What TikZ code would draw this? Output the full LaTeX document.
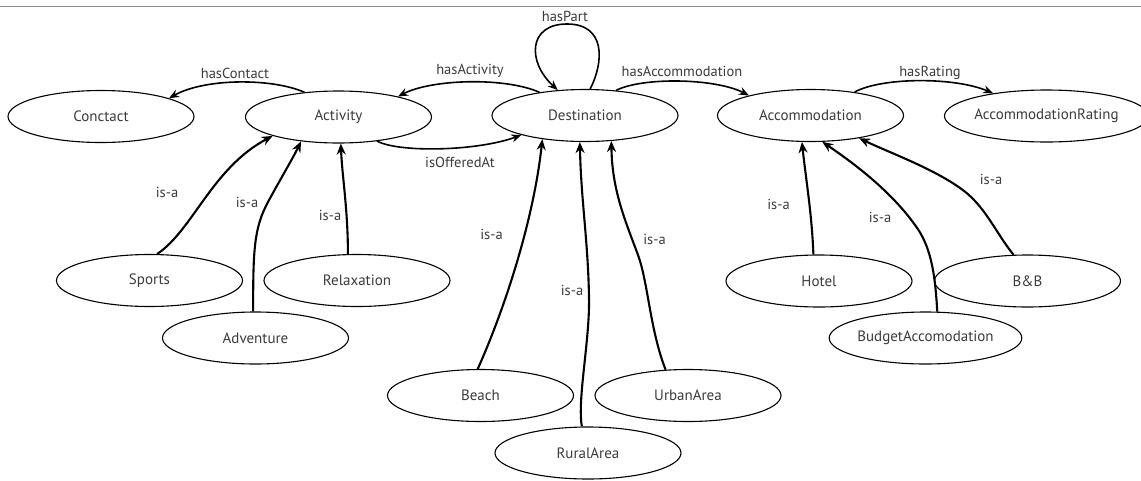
\documentclass[tikz,border=0pt]{standalone}
\usepackage{fontspec}
\setmainfont{PT Sans}
\usetikzlibrary{arrows.meta,shapes.geometric}
\definecolor{txt}{HTML}{3C3C3C}
\definecolor{rule}{HTML}{8C8C8C}
\begin{document}
\begin{tikzpicture}[x=1pt,y=-1pt,
  cls/.style={draw=black, line width=1.1pt, ellipse, minimum width=186pt, minimum height=52pt, inner sep=0pt, text=txt, font=\fontsize{15}{17}\selectfont},
  rel/.style={line width=1.6pt, -{Stealth[length=10pt,width=8pt]}},
  isa/.style={line width=2.1pt, -{Stealth[length=11pt,width=9pt]}},
  lbl/.style={text=txt, font=\fontsize{14.5}{16}\selectfont, inner sep=0pt}]
\useasboundingbox (0,0) rectangle (1141,480);
\fill[white] (0,0) rectangle (1141,480);
% rule line of the cut-off caption above
\coordinate (rl) at (0,6.5);
\coordinate (rr) at (1141,6.5);
\draw[rule, line width=0.9pt] (rl) -- (rr);

% classes
\node[cls] (con) at (101,116.5) {Conctact};
\node[cls] (act) at (338.5,117) {Activity};
\node[cls] (des) at (585,115.5) {Destination};
\node[cls] (acc) at (810.5,115.5) {Accommodation};
\node[cls] (rat) at (1046.5,116) {AccommodationRating};
\node[cls] (spo) at (149.5,280.5) {Sports};
\node[cls] (rel) at (357,280.5) {Relaxation};
\node[cls] (adv) at (255.5,338) {Adventure};
\node[cls] (bea) at (480.5,395.5) {Beach};
\node[cls] (urb) at (688,395.5) {UrbanArea};
\node[cls] (rur) at (588,453) {RuralArea};
\node[cls] (hot) at (819,281) {Hotel};
\node[cls] (bnb) at (1027.5,281) {B\&B};
\node[cls] (bud) at (925.5,338) {BudgetAccomodation};

% relations
\draw[rel] (act.144) .. controls (272,78) and (205,78) .. (con.15);
\draw[rel] (des.153) .. controls (505,77) and (432,79) .. (act.19);
\draw[rel] (act.-32) .. controls (400,153) and (478,151) .. (des.197);
\draw[rel] (des.79) .. controls (604,62) and (606,24) .. (567,24)
                    .. controls (528,24) and (527,62) .. (des.137);
\draw[rel] (des.39) .. controls (642,77) and (715,78) .. (acc.162);
\draw[rel] (acc.28) .. controls (882,77) and (955,77) .. (rat.157);

% is-a
\draw[isa] (spo.74) .. controls (193,230) and (212,168) .. (act.196);
\draw[isa] (adv.95) .. controls (253,250) and (254,228) .. (268,202)
                    .. controls (281,178) and (293,158) .. (act.213);
\draw[isa] (rel.109) .. controls (348,210) and (342,175) .. (act.275);
\draw[isa] (bea.96) .. controls (502,315) and (533,225) .. (des.209);
\draw[isa] (rur.103) .. controls (577,400) and (590,340) .. (589,297)
                     .. controls (588,240) and (581,200) .. (des.259);
\draw[isa] (urb.131) .. controls (650,330) and (648,282) .. (638,255)
                     .. controls (625,220) and (612,190) .. (des.316);
\draw[isa] (hot.102) .. controls (812,215) and (806,180) .. (acc.252);
\draw[isa] (bud.66) .. controls (935,270) and (930,245) .. (915,225)
                    .. controls (890,190) and (852,162) .. (acc.294);
\draw[isa] (bnb.118) .. controls (995,232) and (985,205) .. (960,188)
                     .. controls (932,168) and (888,152) .. (acc.335);

% labels
\node[lbl] (lpart) at (565,16) {hasPart};
\node[lbl] (lcon) at (235,73) {hasContact};
\node[lbl] (lact) at (470,71) {hasActivity};
\node[lbl] (lacc) at (682,71) {hasAccommodation};
\node[lbl] (lrat) at (930,73) {hasRating};
\node[lbl] (loff) at (460,162) {isOfferedAt};
\node[lbl] (i1) at (167,192) {is-a};
\node[lbl] (i2) at (247,202) {is-a};
\node[lbl] (i3) at (330,215) {is-a};
\node[lbl] (i4) at (491.5,234) {is-a};
\node[lbl] (i5) at (572,290) {is-a};
\node[lbl] (i6) at (654.5,239) {is-a};
\node[lbl] (i7) at (778.5,204) {is-a};
\node[lbl] (i8) at (880,217) {is-a};
\node[lbl] (i9) at (991,179) {is-a};
\end{tikzpicture}
\end{document}
